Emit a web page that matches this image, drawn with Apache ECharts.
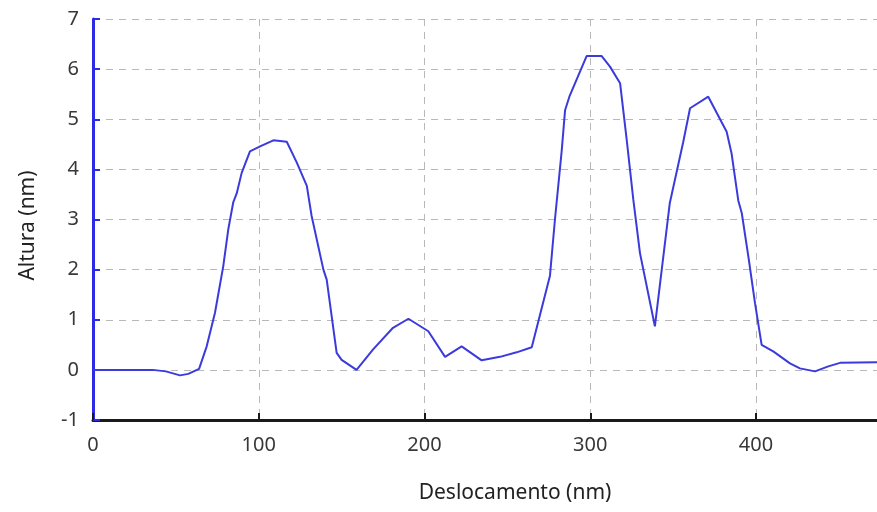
<!DOCTYPE html>
<html>
<head>
<meta charset="utf-8">
<script src="https://cdn.jsdelivr.net/npm/echarts@6/dist/echarts.min.js"></script>
<style>
  html, body { margin: 0; padding: 0; background: #fff; }
  #chart { width: 877px; height: 512px; }
</style>
</head>
<body>
<div id="chart"></div>
<script>
// Height profile along the scan line
const deslocamento = [0, 36, 44, 52.5, 57.5, 64, 68.6, 73.6, 78.6, 81.6, 84.6, 86.7, 89.7, 94.7, 100.8, 108.8, 116.9, 122.9, 129, 131.9, 139, 141, 147, 150, 159, 169, 181, 190.3, 202.3, 212.4, 222.4, 234.5, 245.6, 255.6, 264.7, 275.7, 278.7, 282.8, 284.8, 287.4, 297.8, 306.9, 311.9, 318, 322, 326, 330, 339, 348, 356, 360.2, 371.2, 382.3, 385.3, 389.3, 391.4, 395.4, 399.4, 403.4, 410.4, 420.5, 426.5, 435.6, 443.6, 450.7, 473];
const altura = [0, 0, -0.03, -0.11, -0.08, 0.02, 0.47, 1.14, 2.07, 2.8, 3.34, 3.52, 3.93, 4.36, 4.46, 4.58, 4.55, 4.14, 3.67, 3.07, 2.0, 1.8, 0.34, 0.2, 0, 0.41, 0.84, 1.02, 0.77, 0.26, 0.47, 0.19, 0.26, 0.35, 0.45, 1.88, 3.0, 4.38, 5.18, 5.45, 6.26, 6.26, 6.05, 5.72, 4.59, 3.39, 2.33, 0.87, 3.33, 4.53, 5.22, 5.45, 4.75, 4.31, 3.38, 3.13, 2.26, 1.33, 0.5, 0.37, 0.13, 0.03, -0.03, 0.07, 0.14, 0.15];

const xMin = 0, xMax = 473, xStep = 100;
const yMin = -1, yMax = 7, yStep = 1;

const points = deslocamento.map((x, i) => [x, altura[i]]);

const chart = echarts.init(document.getElementById('chart'), null, { renderer: 'canvas' });
const labelFont = { fontFamily: 'Noto Sans', fontSize: 20, color: '#383838' };
const nameFont = { fontFamily: 'Noto Sans', fontSize: 21, color: '#222' };
const gridDash = { color: '#b8b8b8', type: [7, 6], width: 1 };

chart.setOption({
  animation: false,
  backgroundColor: '#ffffff',
  grid: { left: 93, right: 0, top: 19, bottom: 92, containLabel: false },
  xAxis: {
    type: 'value',
    min: xMin, max: xMax, interval: xStep,
    name: 'Deslocamento (nm)',
    nameLocation: 'middle',
    nameGap: 63,
    nameTextStyle: Object.assign({ padding: [0, 0, 0, 60] }, nameFont),
    axisLine: { show: true, onZero: false, lineStyle: { color: '#1a1a1a', width: 3 } },
    axisTick: { show: true, inside: true, length: 7, lineStyle: { color: '#1a1a1a', width: 2 } },
    axisLabel: Object.assign({ margin: 15, showMaxLabel: false,
      formatter: v => (v % xStep === 0 ? String(v) : '') }, labelFont),
    splitLine: { show: true, lineStyle: gridDash }
  },
  yAxis: {
    type: 'value',
    min: yMin, max: yMax, interval: yStep,
    name: 'Altura (nm)',
    nameLocation: 'middle',
    nameGap: 54,
    nameTextStyle: Object.assign({ padding: [0, 12, 0, 0] }, nameFont),
    axisLine: { show: true, onZero: false, lineStyle: { color: '#2b2be6', width: 3 } },
    axisTick: { show: true, inside: true, length: 7, lineStyle: { color: '#2b2be6', width: 2 } },
    axisLabel: Object.assign({ margin: 14 }, labelFont),
    splitLine: { show: true, lineStyle: gridDash }
  },
  series: [{
    type: 'line',
    data: points,
    showSymbol: false,
    lineStyle: { color: '#3b3bdc', width: 2 },
    z: 3
  }]
});
</script>
</body>
</html>
